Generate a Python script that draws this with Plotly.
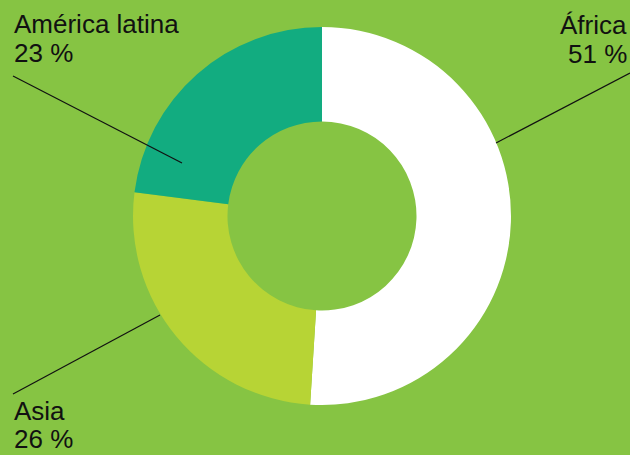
import plotly.graph_objects as go

W, H = 630, 455
regions = ["África", "Asia", "América latina"]
shares = [51, 26, 23]
pct_labels = ["51 %", "26 %", "23 %"]
colors = ["#ffffff", "#b7d435", "#12ac80"]
bg = "#86c443"

cx, cy, R = 322, 216, 189  # pixel centre / radius


def px(x):
    return x / W


def py(y):
    return 1 - y / H


fig = go.Figure(go.Pie(
    labels=regions, values=shares, sort=False, direction="clockwise", rotation=0,
    hole=0.5, marker=dict(colors=colors, line=dict(width=0)),
    textinfo="none", hoverinfo="label+percent",
    domain=dict(x=[px(cx - R), px(cx + R)], y=[py(cy + R), py(cy - R)]),
    showlegend=False,
))

font = dict(family="Liberation Sans, Arial, sans-serif", size=26, color="#111111")

# label placement: (x, anchor, y_name, y_pct, line start, line end)
label_pos = {
    "América latina": (12, "left", 24, 53, (13, 76), (182, 163)),
    "África": (629, "right", 25, 54, (630, 73), (496, 143)),
    "Asia": (12, "left", 411, 439, (13, 394), (160, 315)),
}

for name, pct in zip(regions, pct_labels):
    x, anc, y1, y2, p0, p1 = label_pos[name]
    fig.add_annotation(x=px(x), y=py(y1), xref="paper", yref="paper", text=name,
                       showarrow=False, xanchor=anc, yanchor="middle", font=font)
    fig.add_annotation(x=px(x), y=py(y2), xref="paper", yref="paper", text=pct,
                       showarrow=False, xanchor=anc, yanchor="middle", font=font)
    fig.add_shape(type="line", xref="paper", yref="paper",
                  x0=px(p0[0]), y0=py(p0[1]), x1=px(p1[0]), y1=py(p1[1]),
                  line=dict(color="#111111", width=1.2))

fig.update_layout(width=W, height=H, margin=dict(l=0, r=0, t=0, b=0),
                  paper_bgcolor=bg, plot_bgcolor=bg)
fig.write_html("out.html", config={"displayModeBar": False},
               post_script="document.body.style.margin='0';document.body.style.overflow='hidden';")
